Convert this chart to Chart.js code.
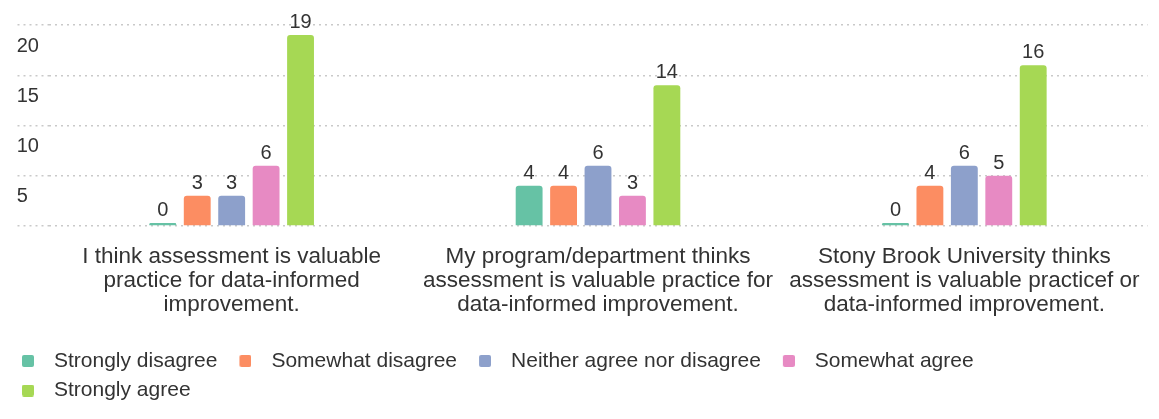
<!DOCTYPE html>
<html>
<head>
<meta charset="utf-8">
<script src="https://cdn.jsdelivr.net/npm/chart.js@4"></script>
<style>
html,body{margin:0;padding:0;background:#fff;}
#wrap{width:1159px;height:419px;}
</style>
</head>
<body>
<div id="wrap"><canvas id="c" width="1159" height="419"></canvas></div>
<script>
const categories = [
  ["I think assessment is valuable", "practice for data-informed", "improvement."],
  ["My program/department thinks", "assessment is valuable practice for", "data-informed improvement."],
  ["Stony Brook University thinks", "assessment is valuable practicef or", "data-informed improvement."]
];
const seriesNames = ["Strongly disagree", "Somewhat disagree", "Neither agree nor disagree", "Somewhat agree", "Strongly agree"];
const stronglyDisagree = [0, 4, 0];
const somewhatDisagree = [3, 4, 4];
const neitherAgree = [3, 6, 6];
const somewhatAgree = [6, 3, 5];
const stronglyAgree = [19, 14, 16];
const seriesColors = ["#66c2a5", "#fc8d62", "#8da0cb", "#e78ac3", "#a6d854"];
const yTicks = [0, 5, 10, 15, 20];

const FONT = '"Liberation Sans", Arial, sans-serif';
const TEXT = '#333333';
const seriesValues = [stronglyDisagree, somewhatDisagree, neitherAgree, somewhatAgree, stronglyAgree];

// small rounded legend swatches (drawn by the legend as point-style images)
const swatches = seriesColors.map(col => {
  const cv = document.createElement('canvas');
  cv.width = 16; cv.height = 12;
  const g = cv.getContext('2d');
  g.fillStyle = col;
  g.beginPath();
  if (g.roundRect) g.roundRect(4, 0, 12, 12, 2); else g.rect(4, 0, 12, 12);
  g.fill();
  return cv;
});

const valueLabels = {
  id: 'valueLabels',
  afterDatasetsDraw(chart) {
    const ctx = chart.ctx;
    ctx.save();
    ctx.font = '20px ' + FONT;
    ctx.fillStyle = TEXT;
    ctx.textAlign = 'center';
    ctx.textBaseline = 'alphabetic';
    chart.data.datasets.forEach((ds, i) => {
      const meta = chart.getDatasetMeta(i);
      meta.data.forEach((bar, j) => {
        ctx.fillText(String(ds.data[j]), bar.x, bar.y - 7);
      });
    });
    ctx.restore();
  }
};

new Chart(document.getElementById('c'), {
  type: 'bar',
  data: {
    labels: categories,
    datasets: seriesNames.map((name, i) => ({
      label: name,
      data: seriesValues[i],
      backgroundColor: seriesColors[i],
      borderRadius: 3,
      borderSkipped: 'bottom',
      minBarLength: 3,
      categoryPercentage: 0.47,
      barPercentage: 0.78
    }))
  },
  options: {
    responsive: false,
    animation: false,
    devicePixelRatio: 1,
    layout: { padding: { left: 0, right: 3.5, top: 25, bottom: 8 } },
    plugins: {
      tooltip: { enabled: false },
      legend: {
        position: 'bottom',
        align: 'start',
        labels: {
          usePointStyle: true,
          pointStyleWidth: 35,
          boxHeight: 12,
          padding: 8.5,
          color: TEXT,
          font: { family: FONT, size: 21 },
          generateLabels(chart) {
            return Chart.defaults.plugins.legend.labels.generateLabels(chart)
              .map((it, i) => Object.assign(it, { pointStyle: swatches[i] }));
          }
        }
      }
    },
    scales: {
      x: {
        grid: { display: false, drawTicks: false },
        border: { display: false },
        ticks: {
          color: TEXT,
          padding: 19,
          maxRotation: 0,
          autoSkip: false,
          font: { family: FONT, size: 22.5, lineHeight: 1.0667 }
        },
        afterFit(scale) { scale.height = 116; }
      },
      y: {
        min: 0,
        max: 20,
        afterBuildTicks(scale) { scale.ticks = yTicks.map(v => ({ value: v })); },
        grid: {
          color: '#c9c9c9',
          lineWidth: 1.5,
          tickLength: 31,
          borderDash: [2, 4],
          tickBorderDash: [2, 4]
        },
        border: { display: false, dash: [2, 4] },
        ticks: {
          color: TEXT,
          mirror: true,
          crossAlign: 'near',
          padding: -31.8,
          labelOffset: 21,
          font: { family: FONT, size: 20 },
          callback: (v) => (v === 0 ? '' : String(v))
        },
        afterFit(scale) { scale.width = 48.5; }
      }
    }
  },
  plugins: [valueLabels]
});
</script>
</body>
</html>
